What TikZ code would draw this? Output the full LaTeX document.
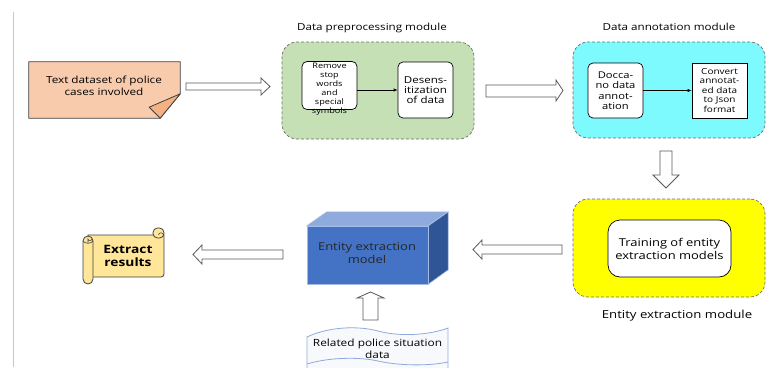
\documentclass[tikz,border=0pt]{standalone}
\usepackage{fontspec}
\setmainfont{Open Sans}[FakeStretch=1.2]
\definecolor{peach}{HTML}{F8CBAD}
\definecolor{peachdark}{HTML}{F4B183}
\definecolor{modgreen}{HTML}{C5E0B4}
\definecolor{modcyan}{HTML}{7CFAFD}
\definecolor{modyellow}{HTML}{FFFF00}
\definecolor{cubefront}{HTML}{4472C4}
\definecolor{cubetop}{HTML}{8FAADC}
\definecolor{cubeside}{HTML}{2F5597}
\definecolor{scrollfill}{HTML}{FFE699}
\definecolor{docblue}{HTML}{8FAADC}
\definecolor{docfill}{HTML}{F7F9FD}
\definecolor{arrowgray}{HTML}{595959}
\definecolor{modgray}{HTML}{6F6F6F}
\definecolor{outline}{HTML}{3F3F3F}
\definecolor{rulegray}{HTML}{C8C8C8}
\tikzset{
  barrow/.style={draw=arrowgray, fill=white, line width=0.8pt, line join=miter},
  module/.style={draw=modgray, dash pattern=on 3pt off 2pt, rounded corners=15pt, line width=0.7pt, inner sep=0pt},
  inbox/.style={draw=black, fill=white, line width=0.7pt, inner sep=0pt, align=center},
  titletext/.style={font=\fontsize{9.7}{12}\selectfont, inner sep=0pt},
  smalltext/.style={font=\fontsize{7.6}{8.9}\selectfont},
  midtext/.style={font=\fontsize{9.6}{10.3}\selectfont},
  flow/.style={-{Latex[length=4pt,width=3.5pt]}, line width=0.7pt, draw=black},
}
\usetikzlibrary{arrows.meta}
\begin{document}
\begin{tikzpicture}[x=1pt,y=-1pt]
\useasboundingbox (0,0) rectangle (771,367);
\clip (0,0) rectangle (771,367);
% left rule
\draw[rulegray, line width=0.8pt] (13,12) -- (13,367);

% source note
\node[minimum width=151pt, minimum height=56pt, inner sep=0pt] (src) at (104.5,90) {};
\draw[outline, fill=peach, line width=0.8pt] (src.north west) -- (src.north east) -- ([yshift=-32pt]src.north east) -- ([xshift=-20pt]src.south east) -- (src.south west) -- cycle;
\draw[outline, fill=peachdark, line width=0.8pt, line join=round] ([yshift=-32pt]src.north east) -- ([xshift=-20pt]src.south east) -- ([xshift=-31pt,yshift=11pt]src.south east) -- cycle;
\node[font=\fontsize{9.8}{11.5}\selectfont, align=center] at (104,86) {Text dataset of police\\cases involved};

% arrow 1
\draw[barrow] (186,83) -- (261,83) -- (261,78) -- (270,86.5) -- (261,95) -- (261,90) -- (186,90) -- cycle;

% data preprocessing module
\node[module, fill=modgreen, minimum width=192pt, minimum height=97pt] (pre) at (378,90.5) {};
\node[titletext] (pretitle) at (372,28) {Data preprocessing module};
\node[inbox, rounded corners=5pt, minimum width=55pt, minimum height=48pt] (rm) at (329.5,85.5) {};
\node[smalltext, align=center, inner sep=0pt] at (329.5,89) {Remove\\stop\\words\\and\\special\\symbols};
\node[inbox, midtext, rounded corners=5pt, text width=55pt, minimum height=56pt] (des) at (425.5,90) {Desens-\\itization\\of data};
\draw[flow] (rm.east |- des.west) -- (des.west);

% arrow 2
\draw[barrow] (486,85) -- (556,85) -- (556,80) -- (563,90.5) -- (556,101) -- (556,97) -- (486,97) -- cycle;

% data annotation module
\node[module, fill=modcyan, minimum width=192pt, minimum height=96pt] (ann) at (669,90) {};
\node[titletext] (anntitle) at (669,27) {Data annotation module};
\node[inbox, font=\fontsize{9.3}{10.5}\selectfont, rounded corners=5pt, text width=55pt, minimum height=55pt] (doc) at (615.5,90.5) {Docca-\\no data\\annot-\\ation};
\node[inbox, font=\fontsize{8.3}{9.5}\selectfont, text width=55pt, minimum height=55pt] (conv) at (719.5,90.5) {Convert\\annotat-\\ed data\\to Json\\format};
\draw[flow] (doc.east) -- (conv.west);

% down arrow
\draw[barrow] (660,151) -- (672,151) -- (672,175) -- (679,175) -- (666,188) -- (653,175) -- (660,175) -- cycle;

% entity extraction module
\node[module, fill=modyellow, minimum width=192pt, minimum height=98pt] (ext) at (669,248) {};
\node[inbox, font=\fontsize{10.8}{13}\selectfont, rounded corners=12pt, minimum width=123pt, minimum height=57pt] (train) at (669.5,248.5) {Training of entity\\extraction models};
\node[font=\fontsize{11}{13}\selectfont, inner sep=0pt] (exttitle) at (677,316) {Entity extraction module};

% left arrow (training -> model)
\draw[barrow] (562,245) -- (482,245) -- (482,240) -- (473,249.5) -- (482,259) -- (482,254) -- (562,254) -- cycle;

% cuboid model
\node[minimum width=121pt, minimum height=58pt, inner sep=0pt] (model) at (367.5,255) {};
\fill[cubetop] (model.north west) -- ++(20,-14) -- ++(121,0) -- (model.north east) -- cycle;
\fill[cubeside] (model.north east) -- ++(20,-14) -- ++(0,58) -- (model.south east) -- cycle;
\fill[cubefront] (model.north west) rectangle (model.south east);
\draw[cubetop!80!white, line width=0.6pt] (model.north west) -- ++(20,-14) -- ++(121,0) -- (model.north east) -- cycle;
\draw[cubetop!80!white, line width=0.6pt] (model.north east) -- ++(20,-14) -- ++(0,58) -- (model.south east);
\draw[cubetop!80!white, line width=0.6pt] (model.north west) rectangle (model.south east);
\node[font=\fontsize{10.8}{12.3}\selectfont, align=center, text=black!85] at (367,253) {Entity extraction\\model};

% up arrow
\draw[barrow] (363,320) -- (363,298) -- (357,298) -- (370.5,292) -- (384,298) -- (378,298) -- (378,320) -- cycle;

% related data document
\node[minimum width=141pt, minimum height=30pt, inner sep=0pt] (rel) at (377.5,352) {};
\draw[docblue, fill=docfill, line width=0.8pt] (307,337) .. controls (330,326) and (360,326) .. (378,331) .. controls (400,337) and (430,335) .. (448,328) -- (448,370) -- (307,370) -- cycle;
\draw[docblue, line width=0.8pt] (307,364) .. controls (330,357) and (360,357) .. (378,361) .. controls (400,366) and (430,366) .. (448,362);
\node[font=\fontsize{9.9}{11.5}\selectfont, align=center] at (377.5,349) {Related police situation\\data};

% left arrow (model -> results)
\draw[barrow] (283,250) -- (202,250) -- (202,245) -- (193,254.5) -- (202,264) -- (202,259) -- (283,259) -- cycle;

% scroll
\node[minimum width=76pt, minimum height=42pt, inner sep=0pt] (res) at (126,256) {};
\draw[outline, fill=scrollfill, line width=0.8pt] (88,235) -- (164,235) {[rounded corners=3pt] -- (164,277) -- (88,277)} -- cycle;
\draw[outline, fill=scrollfill, line width=0.8pt, rounded corners=4.5pt] (153,228) rectangle (164,238);
\draw[outline, line width=0.6pt] (158.5,235) arc (180:360:2.5 and 2.2);
\draw[outline, fill=scrollfill, line width=0.8pt, rounded corners=5pt] (83,236) rectangle (93,284);
\draw[outline, line width=0.6pt] (83,241) .. controls (85,244) and (91,244) .. (93,241);
\draw[outline, line width=0.6pt] (88,243) -- (88,239) arc (180:0:2 and 1.5);
\node[font=\bfseries\fontsize{11.5}{13.5}\selectfont, align=center] at (128,256) {Extract\\results};
\end{tikzpicture}
\end{document}
